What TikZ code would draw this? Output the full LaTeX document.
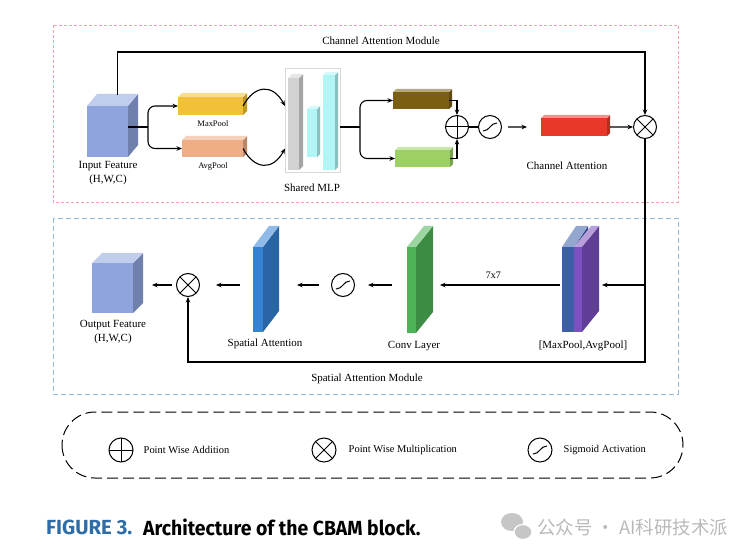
\documentclass[tikz,border=0pt]{standalone}
\usepackage{fontspec}
\usepackage{graphicx}
\setmainfont{Liberation Serif}
\newfontfamily\capfont{Fira Sans}
\newfontfamily\cjkfont{Noto Sans CJK SC}
\usetikzlibrary{calc, positioning, arrows.meta}

\definecolor{featblue}{HTML}{8FA4DC}
\definecolor{maxgold}{HTML}{F2C03A}
\definecolor{avgsalmon}{HTML}{EFAE86}
\definecolor{mlpbrown}{HTML}{7A5E14}
\definecolor{mlpgreen}{HTML}{9CD064}
\definecolor{attred}{HTML}{E8382A}
\definecolor{mlpgray}{HTML}{D2D2D2}
\definecolor{mlpcyan}{HTML}{B2F5F7}
\definecolor{spblue}{HTML}{3582D4}
\definecolor{convgreen}{HTML}{4DB356}
\definecolor{poolblue}{HTML}{3C5EA8}
\definecolor{poolpurple}{HTML}{7C50C0}
\definecolor{capblue}{HTML}{2F6DA8}
\definecolor{modred}{HTML}{F0A4AC}
\definecolor{modblue}{HTML}{92BAD8}

% cuboid: name, x, y, width, height, dx, dy, colour (front face is the node)
\newcommand{\cuboid}[8]{%
  \fill[#8!78!black] (#2+#4,#3) -- ++(#6,#7) -- ++(0,#5) -- ++({-(#6)},{-(#7)}) -- cycle;
  \fill[#8!55!white] (#2,#3) -- ++(#6,#7) -- ++(#4,0) -- ++({-(#6)},{-(#7)}) -- cycle;
  \node[fill=#8, inner sep=0pt, outer sep=0pt, minimum width=#4bp, minimum height=#5bp, anchor=north west] (#1) at (#2,#3) {};
}

\begin{document}
\begin{tikzpicture}[x=1bp, y=-1bp, >={Stealth[length=5.5bp, width=4.5bp]},
    line/.style={line width=1.1bp},
    opnode/.style={circle, draw, line width=1bp, minimum size=23bp, inner sep=0pt},
    oplus/.style={opnode, path picture={\draw[line width=1bp] (path picture bounding box.north) -- (path picture bounding box.south) (path picture bounding box.west) -- (path picture bounding box.east);}},
    otimes/.style={opnode, path picture={\draw[line width=1bp] (path picture bounding box.north west) -- (path picture bounding box.south east) (path picture bounding box.north east) -- (path picture bounding box.south west);}},
    osig/.style={opnode, path picture={\draw[line width=1bp, shift={(path picture bounding box.center)}] (-7,4) .. controls (0,4) and (0,-4) .. (7,-4);}},
    lbl/.style={font=\fontsize{11}{14}\selectfont, inner sep=1bp, align=center},
    small/.style={font=\fontsize{8.5}{10}\selectfont, inner sep=1bp}]
    \useasboundingbox (0,0) rectangle (750,558);

    % Module frames
    \draw[modred, dash pattern=on 3bp off 2bp] (53,25) rectangle (678,202);
    \draw[modblue, dash pattern=on 5bp off 3bp] (53,218) rectangle (678,394);
    \node[lbl] (chlbl) at (381,41) {Channel Attention Module};
    \node[lbl] (splbl) at (367,379) {Spatial Attention Module};

    % Channel attention blocks
    \cuboid{input}{87}{106}{41}{51}{10}{-12}{featblue}
    \cuboid{maxpool}{178}{97}{65}{18}{4}{-4}{maxgold}
    \cuboid{avgpool}{182}{140}{61}{17}{4}{-4}{avgsalmon}
    \node[draw=gray!30, minimum width=55bp, minimum height=104bp, anchor=north west] (mlp) at (285,68) {};
    \cuboid{mlpa}{288}{78}{11}{92}{4}{-4}{mlpgray}
    \cuboid{mlpb}{307}{109}{10}{48}{3}{-3}{mlpcyan}
    \cuboid{mlpc}{323}{75}{12}{95}{3}{-3}{mlpcyan}
    \cuboid{mlpout1}{393}{92}{56}{17}{3}{-3}{mlpbrown}
    \cuboid{mlpout2}{395}{150}{55}{17}{3}{-3}{mlpgreen}
    \cuboid{chatt}{541}{118}{66}{18}{3}{-3}{attred}

    \node[oplus] (add) at (457,127) {};
    \node[osig] (sig1) at (490,127) {};
    \node[otimes] (mul1) at (645,127) {};

    % Labels
    \node[lbl] (inlbl) at (108,173) {Input Feature\\(H,W,C)};
    \node[small] (maxlbl) at (213,124) {MaxPool};
    \node[small] (avglbl) at (213,166) {AvgPool};
    \node[lbl] (mlplbl) at (312,188) {Shared MLP};
    \node[lbl] (chattlbl) at (567,166) {Channel Attention};

    % Channel connectors
    \coordinate (split1) at (148,127);
    \coordinate (split2) at (360,127);
    \coordinate (skip) at ($(input.north)+(10,-11)$);
    \coordinate (chtop) at (645,52);
    \draw[line] (split1 -| input.east) -- (split1);
    \draw[line, ->, rounded corners=7bp] (split1) |- (maxpool.west);
    \draw[line, ->, rounded corners=7bp] (split1) |- (avgpool.west);
    \draw[line, ->] (maxpool.east) .. controls ($(maxpool.east)+(12,-22)$) and ($(mlp.west |- maxpool.east)+(-12,-22)$) .. (mlp.west |- maxpool.east);
    \draw[line, ->] (avgpool.east) .. controls ($(avgpool.east)+(12,22)$) and ($(mlp.west |- avgpool.east)+(-12,22)$) .. (mlp.west |- avgpool.east);
    \draw[line] (split2 -| mlp.east) -- (split2);
    \draw[line, ->, rounded corners=7bp] (split2) |- (mlpout1.west);
    \draw[line, ->, rounded corners=7bp] (split2) |- (mlpout2.west);
    \draw[line, ->] (mlpout1.east) -| (add.north);
    \draw[line, ->] (mlpout2.east) -| (add.south);
    \draw[line] (add) -- (sig1);
    \draw[line, ->, shorten <=6bp, shorten >=14bp] (sig1) -- (chatt);
    \draw[line, ->, shorten <=3bp] (chatt) -- (mul1);
    \draw[line, ->] (skip) |- (chtop) -- (mul1.north);

    % Spatial attention blocks
    \cuboid{output}{92}{263}{41}{50}{10}{-10}{featblue}
    \cuboid{satt}{253}{247}{10}{85}{16}{-21}{spblue}
    \cuboid{conv}{407}{247}{9}{86}{17}{-21}{convgreen}
    \cuboid{poolA}{562}{247}{12}{85}{14}{-21}{poolblue}
    \cuboid{poolB}{574}{247}{8}{85}{17}{-21}{poolpurple}

    \node[otimes] (mul2) at (188,285) {};
    \node[osig] (sig2) at (343,285) {};

    \node[lbl] (outlbl) at (113,332) {Output Feature\\(H,W,C)};
    \node[lbl] (sattlbl) at (265,344) {Spatial Attention};
    \node[lbl] (convlbl) at (414,346) {Conv Layer};
    \node[lbl] (poollbl) at (583,346) {[MaxPool,AvgPool]};

    % Spatial connectors
    \coordinate (jn) at (645,285);
    \coordinate (jb) at (645,362);
    \draw[line] (mul1.south) -- (jn);
    \draw[line, ->] (jn) -- (jb) -| (mul2.south);
    \draw[line, ->, shorten >=20bp] (jn) -- (jn -| poolB.east);
    \draw[line, ->, shorten <=2bp, shorten >=24bp] (jn -| poolA.west) -- (jn -| conv.east)
        node[pos=0.47, above=5bp, font=\fontsize{10}{12}\selectfont, inner sep=1bp] (ksize) {7x7};
    \draw[line, ->, shorten <=24bp, shorten >=13bp] (sig2 -| conv.east) -- (sig2);
    \draw[line, ->, shorten <=12bp, shorten >=34bp] (sig2) -- (sig2 -| satt.east);
    \draw[line, ->, shorten <=13bp, shorten >=16bp] (sig2 -| satt.west) -- (mul2);
    \draw[line, ->, shorten <=4bp, shorten >=19bp] (mul2) -- (mul2 -| output.east);

    % Legend
    \draw[line width=1bp, dash pattern=on 11bp off 5bp, rounded corners=33bp] (62,412) rectangle (683,478);
    \node[oplus, minimum size=24bp] (lgadd) at (121,450) {};
    \node[otimes, minimum size=24bp] (lgmul) at (324,450) {};
    \node[osig, minimum size=24bp] (lgsig) at (540,450) {};
    \node[lbl, font=\fontsize{10.5}{12}\selectfont, right=9bp of lgadd] (lgaddtxt) {Point Wise Addition};
    \node[lbl, font=\fontsize{10.5}{12}\selectfont, right=11bp of lgmul] (lgmultxt) {Point Wise Multiplication};
    \node[lbl, font=\fontsize{10.5}{12}\selectfont, right=10bp of lgsig] (lgsigtxt) {Sigmoid Activation};

    % Caption
    \node[anchor=west, inner sep=0pt, text=capblue] (fig) at (46,527) {\capfont\bfseries\fontsize{20.5}{22}\selectfont FIGURE 3.};
    \node[anchor=west, inner sep=0pt] (title) at (143,527) {\scalebox{0.95}[1]{\capfont\bfseries\fontsize{20.5}{22}\selectfont Architecture of the CBAM block.}};

    % Watermark
    \fill[gray!45] (512,522) ellipse (11 and 9);
    \fill[gray!45, draw=white, line width=1.2bp] (523,532) ellipse (9 and 7.5);
    \node[anchor=west, inner sep=0pt, text=gray!55] (wm) at (537,527) {\cjkfont\fontsize{18.5}{20}\selectfont 公众号 · AI科研技术派};
\end{tikzpicture}
\end{document}
